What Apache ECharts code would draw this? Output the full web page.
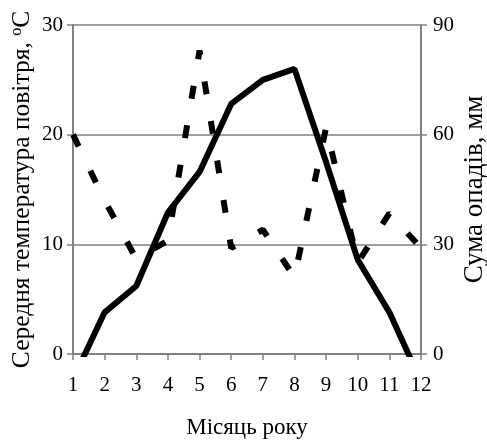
<!DOCTYPE html>
<html>
<head>
<meta charset="utf-8">
<script src="https://cdn.jsdelivr.net/npm/echarts@6/dist/echarts.min.js"></script>
<style>
  html, body { margin: 0; padding: 0; background: #fff; }
  #chart { width: 487px; height: 440px; }
</style>
</head>
<body>
<div id="chart"></div>
<script>
// місяці року
let months = [1, 2, 3, 4, 5, 6, 7, 8, 9, 10, 11, 12];
// середня температура повітря, °C
let temperature = [-2.3, 3.8, 6.2, 12.9, 16.6, 22.8, 25.0, 26.0, 17.5, 8.6, 3.8, -2.5];
// сума опадів, мм
let precipitation = [60, 42, 26, 31, 83, 29, 34, 21, 62, 25, 38.5, 29];

let tempTicks = [0, 10, 20, 30];
let precTicks = [0, 30, 60, 90];

let font = "'Liberation Serif', 'Times New Roman', serif";

let tempData = [];
let precData = [];
for (let i = 0; i < months.length; i++) {
    tempData.push([months[i], temperature[i]]);
    precData.push([months[i], precipitation[i]]);
}

let myChart = echarts.init(document.getElementById('chart'));

let option = {
    animation: false,
    grid: {
        left: 73,
        right: 66,
        top: 25,
        bottom: 86,
        outerBoundsMode: 'none'
    },
    xAxis: {
        type: 'value',
        min: months[0],
        max: months[months.length - 1],
        interval: 1,
        name: 'Місяць року',
        nameLocation: 'middle',
        nameGap: 62,
        nameMoveOverlap: false,
        nameTextStyle: { fontFamily: font, fontSize: 23, color: '#000' },
        axisLine: { show: true, lineStyle: { color: '#808080', width: 2 } },
        axisTick: { show: true, length: 6, lineStyle: { color: '#808080', width: 1.5 } },
        axisLabel: { fontFamily: font, fontSize: 21, color: '#000', margin: 21 },
        splitLine: { show: false }
    },
    yAxis: [
        {
            type: 'value',
            min: tempTicks[0],
            max: tempTicks[tempTicks.length - 1],
            interval: 10,
            position: 'left',
            name: 'Середня температура повітря, {sup|o}C',
            nameLocation: 'middle',
            nameGap: 38,
            nameMoveOverlap: false,
            nameTextStyle: {
                fontFamily: font, fontSize: 25.5, color: '#000',
                rich: {
                    sup: { fontFamily: font, fontSize: 16, color: '#000', verticalAlign: 'top', padding: [0, 0, 10, 0] }
                }
            },
            axisLine: { show: true, lineStyle: { color: '#808080', width: 2 } },
            axisTick: { show: true, inside: false, length: 6, lineStyle: { color: '#808080', width: 1.5 } },
            axisLabel: { fontFamily: font, fontSize: 21, color: '#000', margin: 10 },
            splitLine: { show: true, lineStyle: { color: '#808080', width: 1.5 } }
        },
        {
            type: 'value',
            min: precTicks[0],
            max: precTicks[precTicks.length - 1],
            interval: 30,
            position: 'right',
            name: 'Сума опадів, мм',
            nameLocation: 'middle',
            nameGap: 40,
            nameMoveOverlap: false,
            nameTextStyle: { fontFamily: font, fontSize: 27, color: '#000' },
            axisLine: { show: true, lineStyle: { color: '#808080', width: 2 } },
            axisTick: { show: true, length: 6, lineStyle: { color: '#808080', width: 1.5 } },
            axisLabel: { fontFamily: font, fontSize: 21, color: '#000', margin: 12 },
            splitLine: { show: false }
        }
    ],
    series: [
        {
            name: 'Температура',
            type: 'line',
            yAxisIndex: 0,
            data: tempData,
            symbol: 'none',
            clip: true,
            lineStyle: { color: '#000', width: 6, cap: 'butt', join: 'bevel' },
            z: 3
        },
        {
            name: 'Опади',
            type: 'line',
            yAxisIndex: 1,
            data: precData,
            symbol: 'none',
            clip: true,
            lineStyle: { color: '#000', width: 6, type: [13, 27], cap: 'butt', join: 'bevel' },
            z: 2
        }
    ]
};

myChart.setOption(option);
</script>
</body>
</html>
